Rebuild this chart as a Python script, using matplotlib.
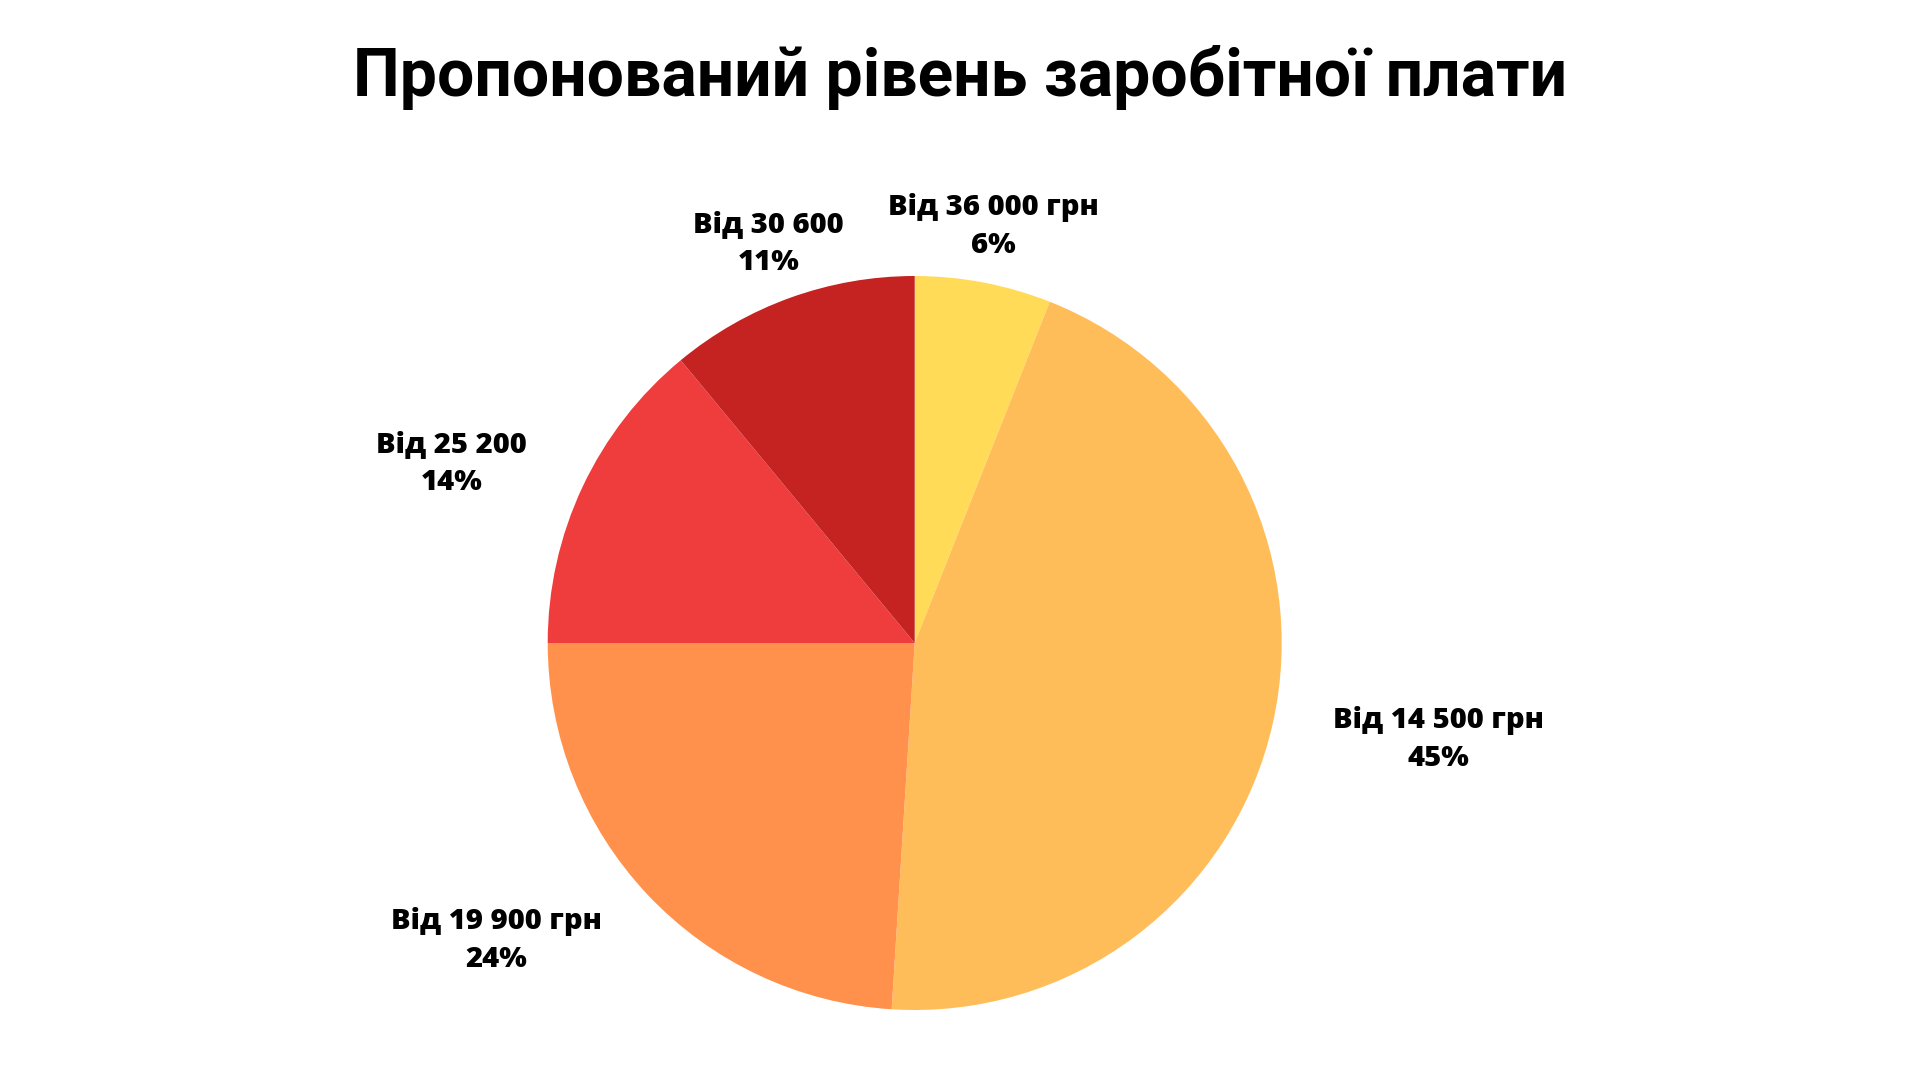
import matplotlib.pyplot as plt

categories = ['Від 36 000 грн', 'Від 14 500 грн', 'Від 19 900 грн', 'Від 25 200', 'Від 30 600']
shares = [6, 45, 24, 14, 11]
colors = ['#ffdb58', '#ffbd59', '#ff914d', '#ef3c3c', '#c52222']

# label centres, in pie radii from the centre
label_xy = [(0.215, 1.135), (1.428, -0.263), (-1.139, -0.810), (-1.262, 0.490), (-0.398, 1.089)]

fig = plt.figure(figsize=(19.2, 10.8), dpi=100)
fig.patch.set_facecolor('white')

cx, cy, r = 914.7, 643, 367
ax = fig.add_axes([(cx - r) / 1920, (1080 - cy - r) / 1080, 2 * r / 1920, 2 * r / 1080])
ax.pie(shares, colors=colors, startangle=90, counterclock=False, radius=1,
       wedgeprops=dict(linewidth=0))
ax.set_xlim(-1, 1)
ax.set_ylim(-1, 1)
ax.set_aspect('equal')
ax.axis('off')

for name, val, (x, y) in zip(categories, shares, label_xy):
    ax.text(x, y, f'{name}\n{val}%', ha='center', va='center', fontsize=21,
            fontfamily='Open Sans', fontweight='heavy', linespacing=1.42,
            color='black', clip_on=False)

fig.text(0.5, 1 - 78 / 1080, 'Пропонований рівень заробітної плати', ha='center', va='center',
         fontsize=47.5, fontfamily='Roboto', fontweight='bold', color='black')

fig.savefig('out.png', dpi=100, facecolor='white')
